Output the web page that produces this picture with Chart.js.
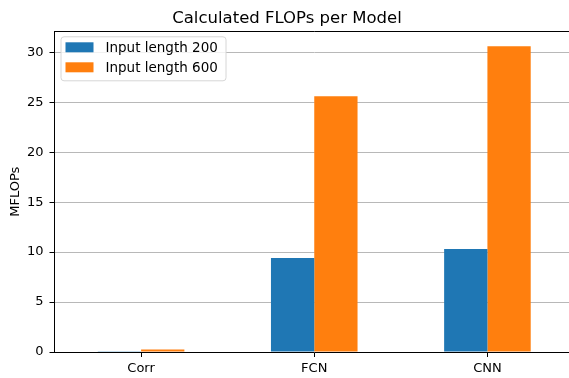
<!DOCTYPE html>
<html>
<head>
<meta charset="utf-8">
<script src="https://cdn.jsdelivr.net/npm/chart.js@4.4.1/dist/chart.umd.min.js"></script>
<style>
  html, body { margin: 0; padding: 0; background: #fff; overflow: hidden; }
  #wrap { width: 575px; height: 378px; position: relative; }
</style>
</head>
<body>
<div id="wrap"><canvas id="chart" width="575" height="378"></canvas></div>
<script>
// Model names along the x axis
const categories = ['Corr', 'FCN', 'CNN'];
// Computed MFLOPs per model for each input length
const flops200 = [0.08, 9.4, 10.3];
const flops600 = [0.25, 25.6, 30.6];
const seriesLabels = ['Input length 200', 'Input length 600'];
const yTicks = [0, 5, 10, 15, 20, 25, 30];

const FONT = 'DejaVu Sans';

// Legend box drawn inside the plot area, top-left corner
const insideLegend = {
  id: 'insideLegend',
  afterDraw(chart) {
    const ctx = chart.ctx;
    const a = chart.chartArea;
    const x0 = a.left + 6, y0 = a.top + 5, w = 165, h = 44;
    ctx.save();
    ctx.beginPath();
    ctx.roundRect(x0 + 0.5, y0 + 0.5, w, h, 3);
    ctx.fillStyle = 'rgba(255,255,255,0.8)';
    ctx.fill();
    ctx.strokeStyle = '#d6d6d6';
    ctx.lineWidth = 1;
    ctx.stroke();
    ctx.font = '13.5px "' + FONT + '"';
    ctx.textBaseline = 'middle';
    chart.data.datasets.forEach((ds, i) => {
      const sy = y0 + 6 + i * 20;
      ctx.fillStyle = ds.backgroundColor;
      ctx.fillRect(x0 + 5, sy, 28, 10);
      ctx.fillStyle = '#000';
      ctx.fillText(ds.label, x0 + 45, sy + 6);
    });
    ctx.restore();
  }
};

// Top edge of the plot frame (left and bottom come from the axis borders)
const frameTop = {
  id: 'frameTop',
  afterDatasetsDraw(chart) {
    const a = chart.chartArea;
    const ctx = chart.ctx;
    const y = Math.round(a.top) + 0.5;
    ctx.save();
    ctx.strokeStyle = '#000';
    ctx.lineWidth = 1;
    ctx.beginPath();
    ctx.moveTo(a.left, y);
    ctx.lineTo(a.right, y);
    ctx.stroke();
    ctx.restore();
  }
};

new Chart(document.getElementById('chart'), {
  type: 'bar',
  data: {
    labels: categories,
    datasets: [
      { label: seriesLabels[0], data: flops200, backgroundColor: '#1f77b4' },
      { label: seriesLabels[1], data: flops600, backgroundColor: '#ff7f0e' }
    ]
  },
  options: {
    responsive: false,
    animation: false,
    layout: { padding: { left: 0, right: 1, top: 0, bottom: 0 } },
    datasets: { bar: { categoryPercentage: 0.5, barPercentage: 1.0 } },
    plugins: {
      legend: { display: false },
      tooltip: { enabled: false },
      title: {
        display: true,
        text: 'Calculated FLOPs per Model',
        color: '#000',
        font: { family: FONT, size: 16.5, weight: 'normal' },
        padding: { top: 9, bottom: 2.5 }
      }
    },
    scales: {
      x: {
        offset: true,
        grid: { offset: false, drawOnChartArea: false, drawTicks: true, tickLength: 5, tickColor: '#000' },
        border: { color: '#000' },
        ticks: { color: '#000', font: { family: FONT, size: 13 }, padding: 3.5 },
        afterFit(s) { s.height = 26; }
      },
      y: {
        min: 0,
        max: 32.1,
        afterBuildTicks(s) { s.ticks = yTicks.map(v => ({ value: v })); },
        grid: { color: '#b8b8b8', lineWidth: 1, tickLength: 5, tickColor: '#000' },
        border: { color: '#000' },
        ticks: { color: '#000', font: { family: FONT, size: 13 }, padding: 6 },
        title: {
          display: true,
          text: 'MFLOPs',
          color: '#000',
          font: { family: FONT, size: 13 },
          padding: { top: 8, bottom: 0 }
        },
        afterFit(s) { s.width = 54.5; }
      }
    }
  },
  plugins: [frameTop, insideLegend]
});
</script>
</body>
</html>
